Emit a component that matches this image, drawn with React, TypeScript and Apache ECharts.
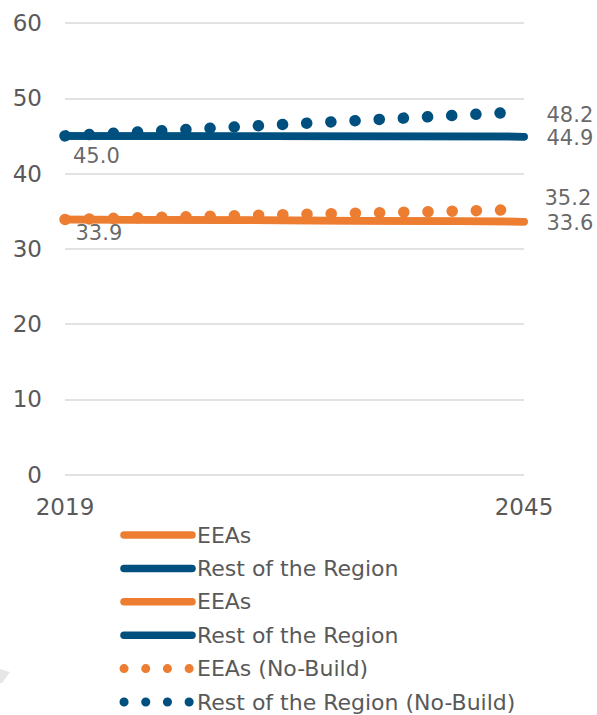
import React, { useEffect, useRef } from "react";
import * as echarts from "echarts";

const years = ["2019", "2045"];
const eeas = [33.9, 33.6];
const restOfRegion = [45.0, 44.9];
const eeasBuild = [33.9, 33.6];
const restBuild = [45.0, 44.9];
const eeasNoBuild = [33.9, 35.2];
const restNoBuild = [45.0, 48.2];
const yMin = 0;
const yMax = 60;
const yStep = 10;

const ORANGE = "#ED7D31";
const BLUE = "#00507F";
const FONT = "DejaVu Sans";

const chartDots: number[] = [];
for (let i = 0; i < 18; i++) chartDots.push(0.1, 24.1);
chartDots.push(0.1, 2000);

export default function App() {
  const ref = useRef<HTMLDivElement>(null);
  useEffect(() => {
    if (!ref.current) return;
    const chart = echarts.init(ref.current, undefined, { renderer: "svg" });
    const last = years.length - 1;
    const lbl = (ox: number, oy: number) => ({
      show: true,
      position: "right",
      distance: 0,
      offset: [ox, oy],
      color: "#404040",
      fontFamily: FONT,
      fontSize: 21,
      formatter: (p: any) => Number(p.value[1]).toFixed(1),
    });
    const solid = (name: string, data: number[], color: string) => ({
      name,
      type: "line",
      data,
      symbol: "none",
      lineStyle: { color, width: 7.5, cap: "round" },
      itemStyle: { color },
      z: 2,
    });
    const dotted = (name: string, data: number[], color: string) => ({
      name,
      type: "line",
      data,
      symbol: "none",
      lineStyle: { color, width: 11.5, type: chartDots, cap: "round" },
      itemStyle: { color },
      z: 3,
    });
    const labels = (items: any[]) => ({
      type: "scatter",
      symbolSize: 0,
      silent: true,
      z: 5,
      data: items,
    });
    const legendDots = { width: 9, type: [0.1, 21.6], cap: "round" };
    chart.setOption({
      animation: false,
      grid: { left: 65, right: 73, top: 23, bottom: 240.5 },
      xAxis: {
        type: "category",
        data: years,
        boundaryGap: false,
        axisLine: { show: false },
        axisTick: { show: false },
        axisLabel: { color: "#595959", fontFamily: FONT, fontSize: 23, margin: 21 },
      },
      yAxis: {
        type: "value",
        min: yMin,
        max: yMax,
        interval: yStep,
        axisLine: { show: false },
        axisTick: { show: false },
        axisLabel: { color: "#595959", fontFamily: FONT, fontSize: 23, margin: 23 },
        splitLine: { lineStyle: { color: "#D9D9D9", width: 1.5 } },
      },
      legend: {
        orient: "vertical",
        left: 119.5,
        top: 524,
        height: 260,
        padding: 0,
        itemWidth: 68,
        itemHeight: 20,
        itemGap: 11.4,
        itemStyle: { color: "transparent", borderColor: "transparent", borderWidth: 0, opacity: 0 },
        lineStyle: { width: 7.5, cap: "round" },
        textStyle: { color: "#595959", fontFamily: FONT, fontSize: 22, lineHeight: 20 },
        data: [
          { name: "EEAs" },
          { name: "Rest of the Region" },
          { name: "EEAs " },
          { name: "Rest of the Region " },
          { name: "EEAs (No-Build)", lineStyle: legendDots },
          { name: "Rest of the Region (No-Build)", lineStyle: legendDots },
        ],
      },
      graphic: [
        {
          type: "polygon",
          shape: { points: [[0, 669], [10, 672], [2, 683], [0, 683]] },
          style: { fill: "#E6E6E6" },
        },
      ],
      series: [
        solid("EEAs", eeas, ORANGE),
        solid("Rest of the Region", restOfRegion, BLUE),
        solid("EEAs ", eeasBuild, ORANGE),
        solid("Rest of the Region ", restBuild, BLUE),
        dotted("EEAs (No-Build)", eeasNoBuild, ORANGE),
        dotted("Rest of the Region (No-Build)", restNoBuild, BLUE),
        labels([
          { value: [0, restBuild[0]], label: lbl(8, 20.5) },
          { value: [last, restBuild[last]], label: lbl(22.5, 1.6) },
          { value: [0, eeasBuild[0]], label: lbl(10.5, 14) },
          { value: [last, eeasBuild[last]], label: lbl(22.5, 1.5) },
          { value: [last, restNoBuild[last]], label: lbl(22.5, 3.4) },
          { value: [last, eeasNoBuild[last]], label: lbl(20.5, -12) },
        ]),
      ],
    });
    return () => chart.dispose();
  }, []);
  return <div ref={ref} style={{ width: 597, height: 715, position: "absolute", left: 0, top: 0 }} />;
}
